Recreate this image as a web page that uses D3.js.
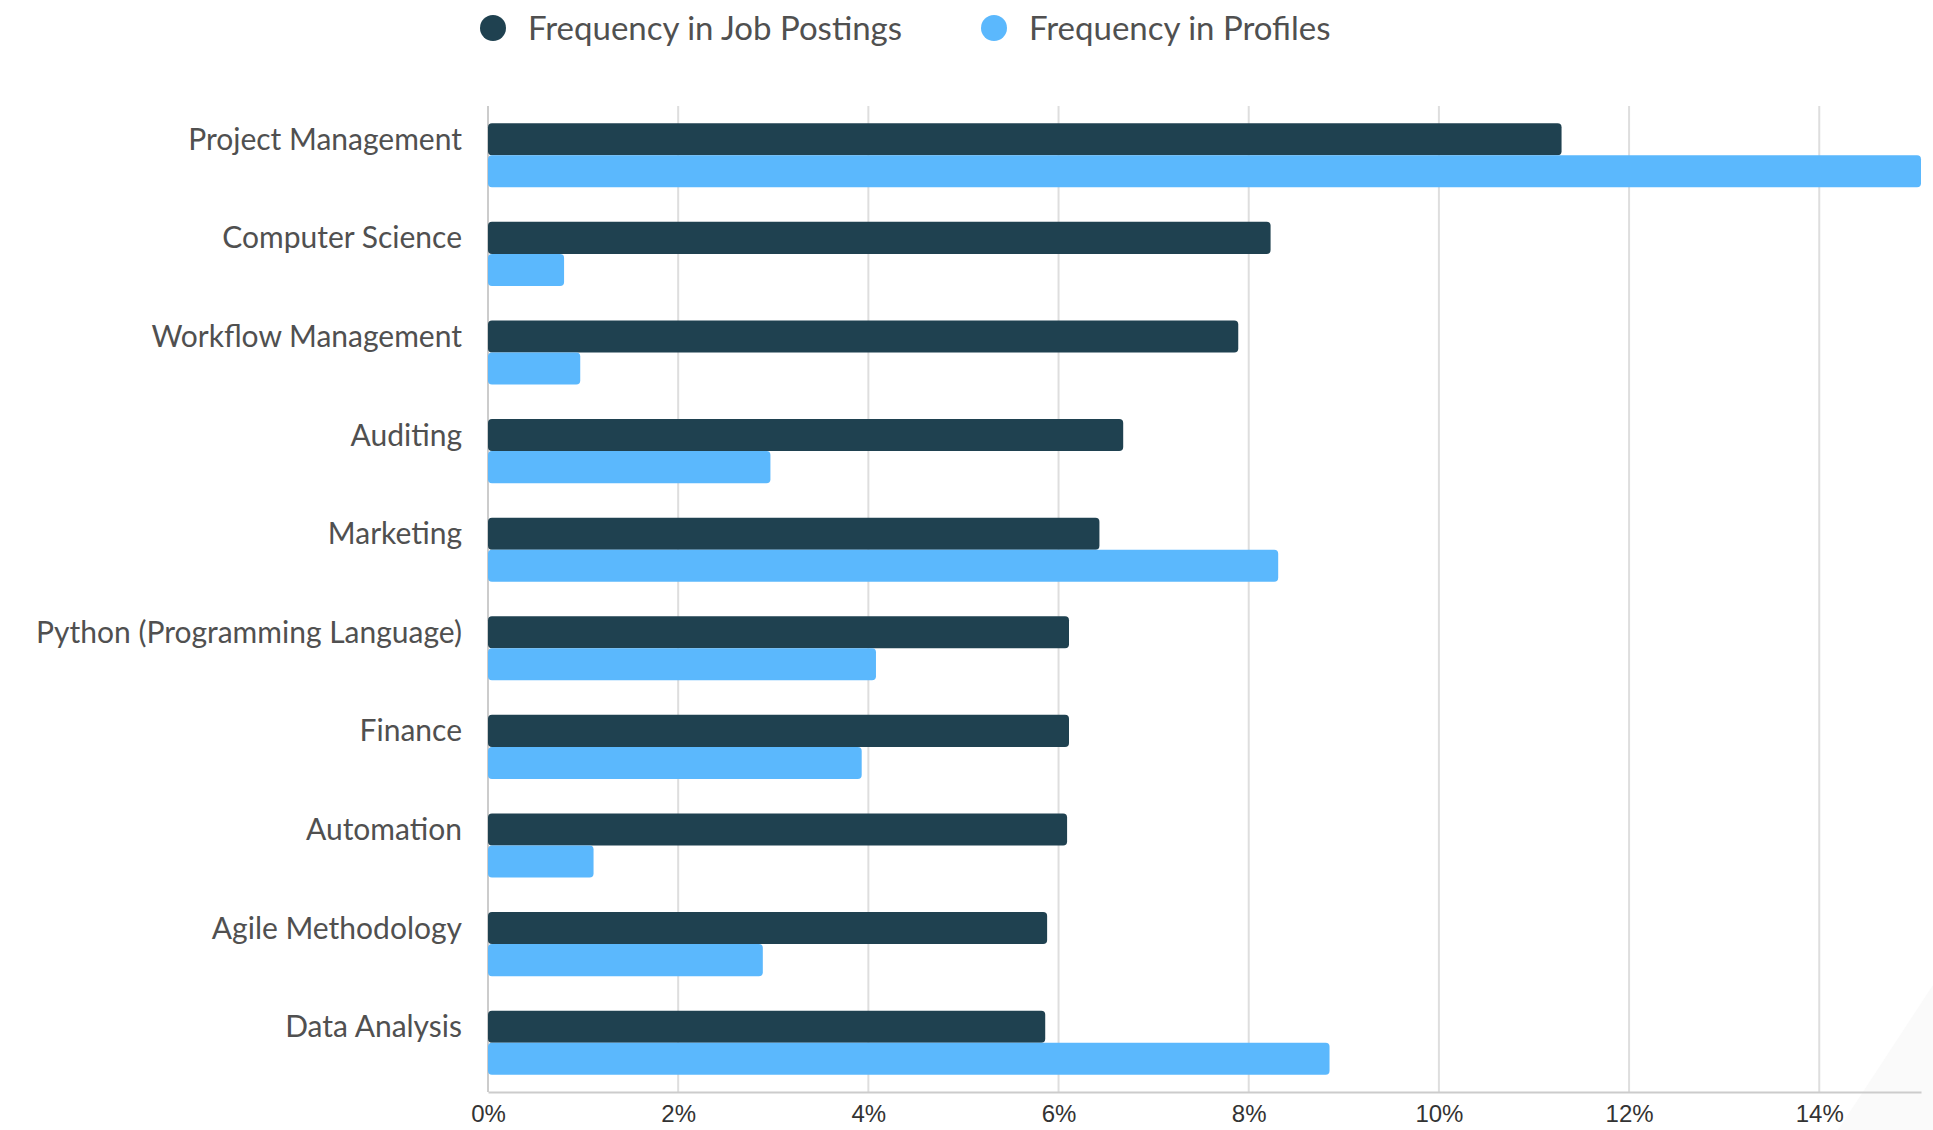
<!DOCTYPE html>
<html>
<head>
<meta charset="utf-8">
<script src="https://cdn.jsdelivr.net/npm/d3@7"></script>
<style>
  body { margin: 0; background: #fff; font-family: Lato, "Open Sans", sans-serif; }
  .cat { fill: #505050; font-size: 30px; }
  .legend { fill: #505050; font-size: 33px; }
  .tick text { fill: #333; font-size: 24px; }
</style>
</head>
<body>
<script>
  const skills = [
    "Project Management",
    "Computer Science",
    "Workflow Management",
    "Auditing",
    "Marketing",
    "Python (Programming Language)",
    "Finance",
    "Automation",
    "Agile Methodology",
    "Data Analysis",
  ];
  const jobPostings = [11.29, 8.23, 7.89, 6.68, 6.43, 6.11, 6.11, 6.09, 5.88, 5.86];
  const profiles = [15.07, 0.8, 0.97, 2.97, 8.31, 4.08, 3.93, 1.11, 2.89, 8.85];
  const seriesNames = ["Frequency in Job Postings", "Frequency in Profiles"];
  const seriesColors = ["#1f4150", "#5bb8fd"];
  const xTicks = [0, 2, 4, 6, 8, 10, 12, 14];

  const width = 1933;
  const height = 1130;
  const margins = { top: 106, right: 12, bottom: 38, left: 488 };

  const svg = d3
    .select("body")
    .append("svg")
    .attr("width", width)
    .attr("height", height);

  // faint corner decoration
  svg
    .append("path")
    .attr("d", "M1838,1130 L1933,985 L1933,1130 Z")
    .attr("fill", "#fafafa");

  const x = d3
    .scaleLinear()
    .domain([0, d3.max(profiles)])
    .range([margins.left, width - margins.right]);

  const y = d3
    .scaleBand()
    .domain(skills)
    .range([margins.top, height - margins.bottom])
    .paddingInner(0.35)
    .paddingOuter(0.175);

  const ySub = d3
    .scaleBand()
    .domain(seriesNames)
    .range([0, y.bandwidth()]);

  // grid lines
  svg
    .append("g")
    .selectAll("line")
    .data(xTicks)
    .enter()
    .append("line")
    .attr("x1", (d) => x(d))
    .attr("x2", (d) => x(d))
    .attr("y1", margins.top)
    .attr("y2", height - margins.bottom)
    .attr("stroke", "#dedede")
    .attr("stroke-width", 2);

  // left axis line
  svg
    .append("line")
    .attr("x1", x(0))
    .attr("x2", x(0))
    .attr("y1", margins.top)
    .attr("y2", height - margins.bottom)
    .attr("stroke", "#cccccc")
    .attr("stroke-width", 2);

  const rows = skills.map((s, i) => ({
    skill: s,
    values: [jobPostings[i], profiles[i]],
  }));

  const groups = svg
    .append("g")
    .selectAll("g")
    .data(rows)
    .enter()
    .append("g")
    .attr("transform", (d) => "translate(0," + y(d.skill) + ")");

  groups
    .selectAll("rect")
    .data((d) => d.values.map((v, j) => ({ v: v, name: seriesNames[j], color: seriesColors[j] })))
    .enter()
    .append("rect")
    .attr("x", x(0))
    .attr("y", (d) => ySub(d.name))
    .attr("width", (d) => x(d.v) - x(0))
    .attr("height", ySub.bandwidth())
    .attr("rx", 4)
    .attr("fill", (d) => d.color);

  // category labels
  svg
    .append("g")
    .selectAll("text")
    .data(skills)
    .enter()
    .append("text")
    .attr("class", "cat")
    .attr("x", margins.left - 26)
    .attr("y", (d) => y(d) + ySub.bandwidth() / 2)
    .attr("dy", "0.35em")
    .attr("text-anchor", "end")
    .text((d) => d);

  // x axis
  const xAxis = svg
    .append("g")
    .attr("transform", "translate(0," + (height - margins.bottom) + ")")
    .call(
      d3
        .axisBottom(x)
        .tickValues(xTicks)
        .tickSize(0)
        .tickPadding(13)
        .tickFormat((d) => d + "%")
    );
  xAxis.select(".domain").attr("stroke", "#cccccc").attr("stroke-width", 2);

  // legend
  const legendX = [493, 994];
  const legend = svg
    .append("g")
    .selectAll("g")
    .data(seriesNames)
    .enter()
    .append("g")
    .attr("transform", (d, i) => "translate(" + legendX[i] + ",28)");

  legend
    .append("circle")
    .attr("r", 13)
    .attr("fill", (d, i) => seriesColors[i]);

  legend
    .append("text")
    .attr("class", "legend")
    .attr("x", 35)
    .attr("dy", "0.35em")
    .text((d) => d);
</script>
</body>
</html>
